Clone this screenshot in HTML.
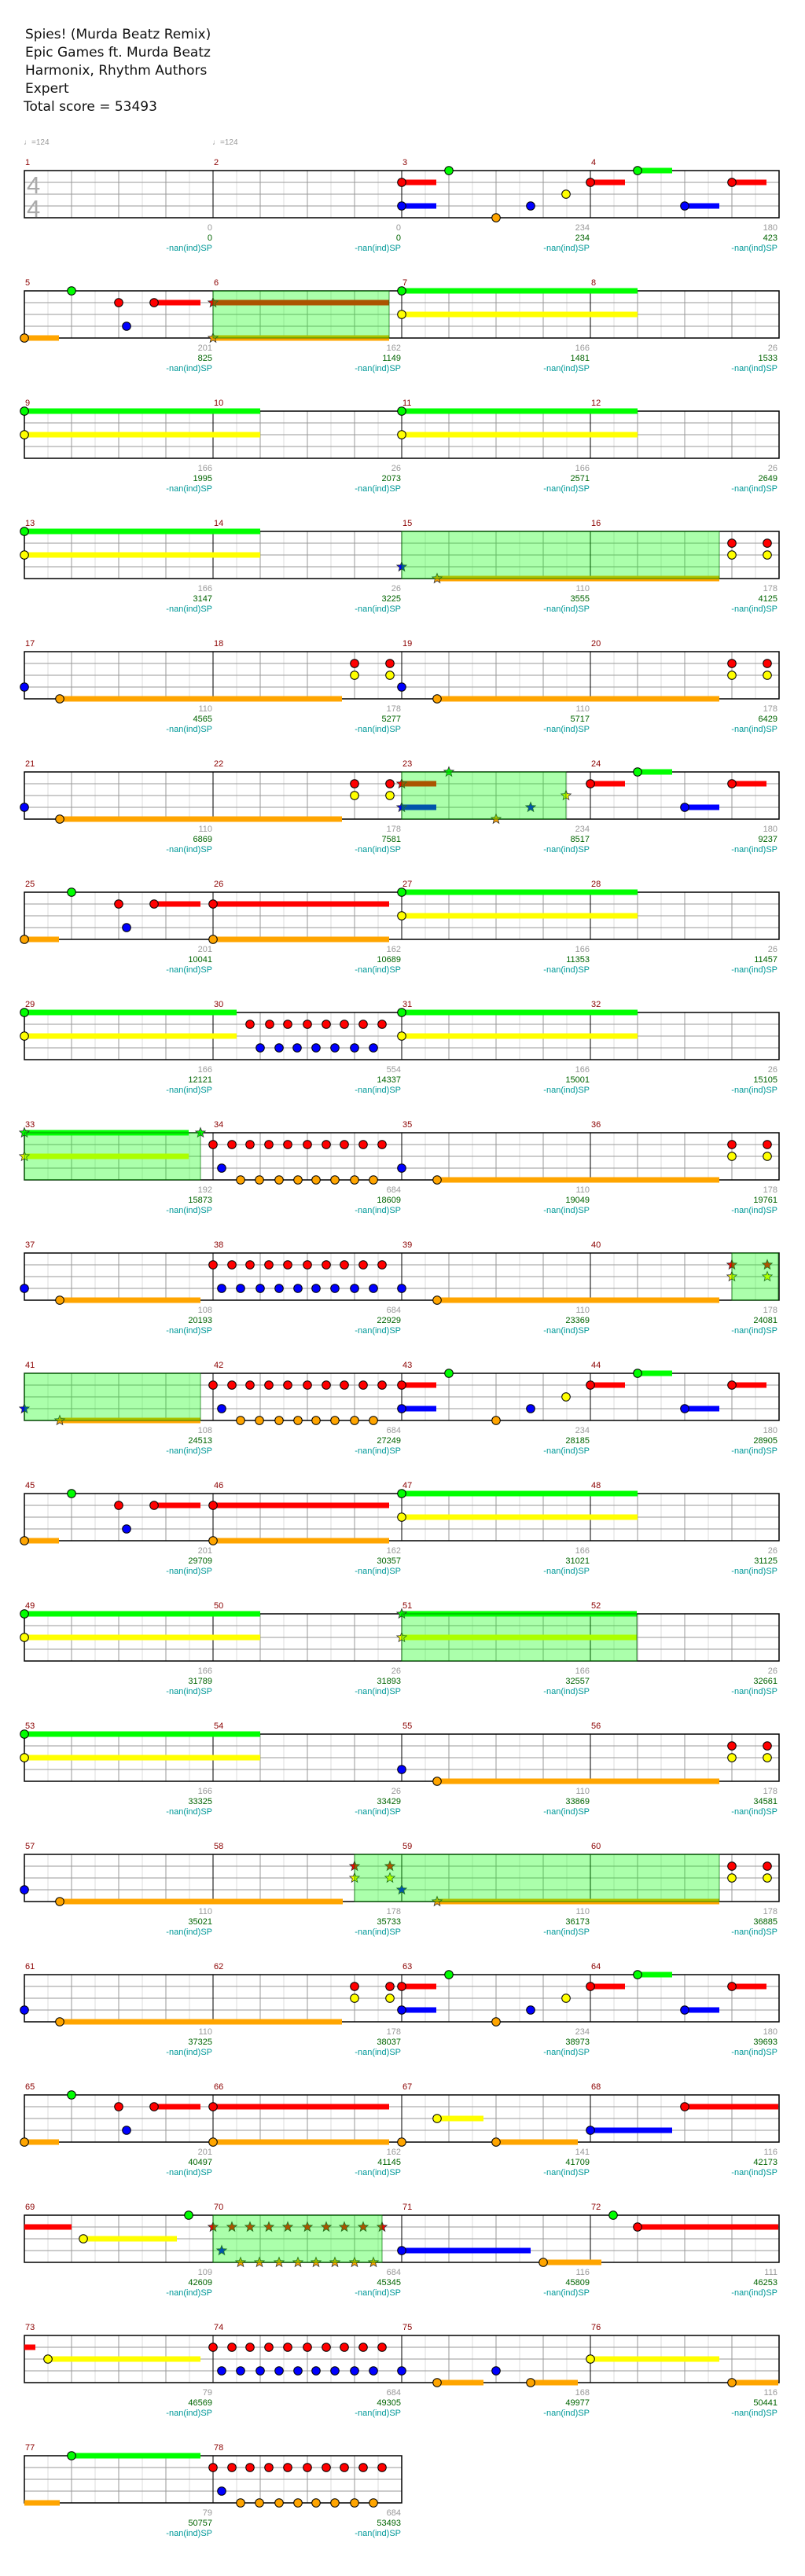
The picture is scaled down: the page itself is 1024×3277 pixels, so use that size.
<!DOCTYPE html>
<html><head><meta charset="utf-8"><style>
html,body{margin:0;padding:0;background:#fff}
svg{display:block}
text{font-family:"Liberation Sans",sans-serif;font-size:11px}
.g{fill:#999;text-anchor:end}.n{fill:#006400;text-anchor:end}.t{fill:#009999;text-anchor:end}.m{fill:#8b0000}
.h{font-family:"DejaVu Sans",sans-serif;font-size:17px;fill:#111}
</style></head><body>
<svg id="s" xmlns="http://www.w3.org/2000/svg" width="1024" height="3277" viewBox="0 0 1024 3277">
<text class="h" x="32" y="49">Spies! (Murda Beatz Remix)</text>
<text class="h" x="32" y="72">Epic Games ft. Murda Beatz</text>
<text class="h" x="32" y="95">Harmonix, Rhythm Authors</text>
<text class="h" x="32" y="118">Expert</text>
<text class="h" x="30" y="141">Total score = 53493</text>
<text x="30" y="184" style="font-size:10px;fill:#999">♩=124</text>
<text x="270" y="184" style="font-size:10px;fill:#999">♩=124</text>
<g id="labels">
<g transform="translate(0,217)"><text class="m" x="32" y="-7">1</text><text class="m" x="272" y="-7">2</text><text class="m" x="512" y="-7">3</text><text class="m" x="752" y="-7">4</text>
<text class="g" x="270" y="76">0</text><text class="n" x="270" y="89">0</text><text class="t" x="270" y="102">-nan(ind)SP</text>
<text class="g" x="510" y="76">0</text><text class="n" x="510" y="89">0</text><text class="t" x="510" y="102">-nan(ind)SP</text>
<text class="g" x="750" y="76">234</text><text class="n" x="750" y="89">234</text><text class="t" x="750" y="102">-nan(ind)SP</text>
<text class="g" x="989" y="76">180</text><text class="n" x="989" y="89">423</text><text class="t" x="989" y="102">-nan(ind)SP</text></g>
<g transform="translate(0,370)"><text class="m" x="32" y="-7">5</text><text class="m" x="272" y="-7">6</text><text class="m" x="512" y="-7">7</text><text class="m" x="752" y="-7">8</text>
<text class="g" x="270" y="76">201</text><text class="n" x="270" y="89">825</text><text class="t" x="270" y="102">-nan(ind)SP</text>
<text class="g" x="510" y="76">162</text><text class="n" x="510" y="89">1149</text><text class="t" x="510" y="102">-nan(ind)SP</text>
<text class="g" x="750" y="76">166</text><text class="n" x="750" y="89">1481</text><text class="t" x="750" y="102">-nan(ind)SP</text>
<text class="g" x="989" y="76">26</text><text class="n" x="989" y="89">1533</text><text class="t" x="989" y="102">-nan(ind)SP</text></g>
<g transform="translate(0,523)"><text class="m" x="32" y="-7">9</text><text class="m" x="272" y="-7">10</text><text class="m" x="512" y="-7">11</text><text class="m" x="752" y="-7">12</text>
<text class="g" x="270" y="76">166</text><text class="n" x="270" y="89">1995</text><text class="t" x="270" y="102">-nan(ind)SP</text>
<text class="g" x="510" y="76">26</text><text class="n" x="510" y="89">2073</text><text class="t" x="510" y="102">-nan(ind)SP</text>
<text class="g" x="750" y="76">166</text><text class="n" x="750" y="89">2571</text><text class="t" x="750" y="102">-nan(ind)SP</text>
<text class="g" x="989" y="76">26</text><text class="n" x="989" y="89">2649</text><text class="t" x="989" y="102">-nan(ind)SP</text></g>
<g transform="translate(0,676)"><text class="m" x="32" y="-7">13</text><text class="m" x="272" y="-7">14</text><text class="m" x="512" y="-7">15</text><text class="m" x="752" y="-7">16</text>
<text class="g" x="270" y="76">166</text><text class="n" x="270" y="89">3147</text><text class="t" x="270" y="102">-nan(ind)SP</text>
<text class="g" x="510" y="76">26</text><text class="n" x="510" y="89">3225</text><text class="t" x="510" y="102">-nan(ind)SP</text>
<text class="g" x="750" y="76">110</text><text class="n" x="750" y="89">3555</text><text class="t" x="750" y="102">-nan(ind)SP</text>
<text class="g" x="989" y="76">178</text><text class="n" x="989" y="89">4125</text><text class="t" x="989" y="102">-nan(ind)SP</text></g>
<g transform="translate(0,829)"><text class="m" x="32" y="-7">17</text><text class="m" x="272" y="-7">18</text><text class="m" x="512" y="-7">19</text><text class="m" x="752" y="-7">20</text>
<text class="g" x="270" y="76">110</text><text class="n" x="270" y="89">4565</text><text class="t" x="270" y="102">-nan(ind)SP</text>
<text class="g" x="510" y="76">178</text><text class="n" x="510" y="89">5277</text><text class="t" x="510" y="102">-nan(ind)SP</text>
<text class="g" x="750" y="76">110</text><text class="n" x="750" y="89">5717</text><text class="t" x="750" y="102">-nan(ind)SP</text>
<text class="g" x="989" y="76">178</text><text class="n" x="989" y="89">6429</text><text class="t" x="989" y="102">-nan(ind)SP</text></g>
<g transform="translate(0,982)"><text class="m" x="32" y="-7">21</text><text class="m" x="272" y="-7">22</text><text class="m" x="512" y="-7">23</text><text class="m" x="752" y="-7">24</text>
<text class="g" x="270" y="76">110</text><text class="n" x="270" y="89">6869</text><text class="t" x="270" y="102">-nan(ind)SP</text>
<text class="g" x="510" y="76">178</text><text class="n" x="510" y="89">7581</text><text class="t" x="510" y="102">-nan(ind)SP</text>
<text class="g" x="750" y="76">234</text><text class="n" x="750" y="89">8517</text><text class="t" x="750" y="102">-nan(ind)SP</text>
<text class="g" x="989" y="76">180</text><text class="n" x="989" y="89">9237</text><text class="t" x="989" y="102">-nan(ind)SP</text></g>
<g transform="translate(0,1135)"><text class="m" x="32" y="-7">25</text><text class="m" x="272" y="-7">26</text><text class="m" x="512" y="-7">27</text><text class="m" x="752" y="-7">28</text>
<text class="g" x="270" y="76">201</text><text class="n" x="270" y="89">10041</text><text class="t" x="270" y="102">-nan(ind)SP</text>
<text class="g" x="510" y="76">162</text><text class="n" x="510" y="89">10689</text><text class="t" x="510" y="102">-nan(ind)SP</text>
<text class="g" x="750" y="76">166</text><text class="n" x="750" y="89">11353</text><text class="t" x="750" y="102">-nan(ind)SP</text>
<text class="g" x="989" y="76">26</text><text class="n" x="989" y="89">11457</text><text class="t" x="989" y="102">-nan(ind)SP</text></g>
<g transform="translate(0,1288)"><text class="m" x="32" y="-7">29</text><text class="m" x="272" y="-7">30</text><text class="m" x="512" y="-7">31</text><text class="m" x="752" y="-7">32</text>
<text class="g" x="270" y="76">166</text><text class="n" x="270" y="89">12121</text><text class="t" x="270" y="102">-nan(ind)SP</text>
<text class="g" x="510" y="76">554</text><text class="n" x="510" y="89">14337</text><text class="t" x="510" y="102">-nan(ind)SP</text>
<text class="g" x="750" y="76">166</text><text class="n" x="750" y="89">15001</text><text class="t" x="750" y="102">-nan(ind)SP</text>
<text class="g" x="989" y="76">26</text><text class="n" x="989" y="89">15105</text><text class="t" x="989" y="102">-nan(ind)SP</text></g>
<g transform="translate(0,1441)"><text class="m" x="32" y="-7">33</text><text class="m" x="272" y="-7">34</text><text class="m" x="512" y="-7">35</text><text class="m" x="752" y="-7">36</text>
<text class="g" x="270" y="76">192</text><text class="n" x="270" y="89">15873</text><text class="t" x="270" y="102">-nan(ind)SP</text>
<text class="g" x="510" y="76">684</text><text class="n" x="510" y="89">18609</text><text class="t" x="510" y="102">-nan(ind)SP</text>
<text class="g" x="750" y="76">110</text><text class="n" x="750" y="89">19049</text><text class="t" x="750" y="102">-nan(ind)SP</text>
<text class="g" x="989" y="76">178</text><text class="n" x="989" y="89">19761</text><text class="t" x="989" y="102">-nan(ind)SP</text></g>
<g transform="translate(0,1594)"><text class="m" x="32" y="-7">37</text><text class="m" x="272" y="-7">38</text><text class="m" x="512" y="-7">39</text><text class="m" x="752" y="-7">40</text>
<text class="g" x="270" y="76">108</text><text class="n" x="270" y="89">20193</text><text class="t" x="270" y="102">-nan(ind)SP</text>
<text class="g" x="510" y="76">684</text><text class="n" x="510" y="89">22929</text><text class="t" x="510" y="102">-nan(ind)SP</text>
<text class="g" x="750" y="76">110</text><text class="n" x="750" y="89">23369</text><text class="t" x="750" y="102">-nan(ind)SP</text>
<text class="g" x="989" y="76">178</text><text class="n" x="989" y="89">24081</text><text class="t" x="989" y="102">-nan(ind)SP</text></g>
<g transform="translate(0,1747)"><text class="m" x="32" y="-7">41</text><text class="m" x="272" y="-7">42</text><text class="m" x="512" y="-7">43</text><text class="m" x="752" y="-7">44</text>
<text class="g" x="270" y="76">108</text><text class="n" x="270" y="89">24513</text><text class="t" x="270" y="102">-nan(ind)SP</text>
<text class="g" x="510" y="76">684</text><text class="n" x="510" y="89">27249</text><text class="t" x="510" y="102">-nan(ind)SP</text>
<text class="g" x="750" y="76">234</text><text class="n" x="750" y="89">28185</text><text class="t" x="750" y="102">-nan(ind)SP</text>
<text class="g" x="989" y="76">180</text><text class="n" x="989" y="89">28905</text><text class="t" x="989" y="102">-nan(ind)SP</text></g>
<g transform="translate(0,1900)"><text class="m" x="32" y="-7">45</text><text class="m" x="272" y="-7">46</text><text class="m" x="512" y="-7">47</text><text class="m" x="752" y="-7">48</text>
<text class="g" x="270" y="76">201</text><text class="n" x="270" y="89">29709</text><text class="t" x="270" y="102">-nan(ind)SP</text>
<text class="g" x="510" y="76">162</text><text class="n" x="510" y="89">30357</text><text class="t" x="510" y="102">-nan(ind)SP</text>
<text class="g" x="750" y="76">166</text><text class="n" x="750" y="89">31021</text><text class="t" x="750" y="102">-nan(ind)SP</text>
<text class="g" x="989" y="76">26</text><text class="n" x="989" y="89">31125</text><text class="t" x="989" y="102">-nan(ind)SP</text></g>
<g transform="translate(0,2053)"><text class="m" x="32" y="-7">49</text><text class="m" x="272" y="-7">50</text><text class="m" x="512" y="-7">51</text><text class="m" x="752" y="-7">52</text>
<text class="g" x="270" y="76">166</text><text class="n" x="270" y="89">31789</text><text class="t" x="270" y="102">-nan(ind)SP</text>
<text class="g" x="510" y="76">26</text><text class="n" x="510" y="89">31893</text><text class="t" x="510" y="102">-nan(ind)SP</text>
<text class="g" x="750" y="76">166</text><text class="n" x="750" y="89">32557</text><text class="t" x="750" y="102">-nan(ind)SP</text>
<text class="g" x="989" y="76">26</text><text class="n" x="989" y="89">32661</text><text class="t" x="989" y="102">-nan(ind)SP</text></g>
<g transform="translate(0,2206)"><text class="m" x="32" y="-7">53</text><text class="m" x="272" y="-7">54</text><text class="m" x="512" y="-7">55</text><text class="m" x="752" y="-7">56</text>
<text class="g" x="270" y="76">166</text><text class="n" x="270" y="89">33325</text><text class="t" x="270" y="102">-nan(ind)SP</text>
<text class="g" x="510" y="76">26</text><text class="n" x="510" y="89">33429</text><text class="t" x="510" y="102">-nan(ind)SP</text>
<text class="g" x="750" y="76">110</text><text class="n" x="750" y="89">33869</text><text class="t" x="750" y="102">-nan(ind)SP</text>
<text class="g" x="989" y="76">178</text><text class="n" x="989" y="89">34581</text><text class="t" x="989" y="102">-nan(ind)SP</text></g>
<g transform="translate(0,2359)"><text class="m" x="32" y="-7">57</text><text class="m" x="272" y="-7">58</text><text class="m" x="512" y="-7">59</text><text class="m" x="752" y="-7">60</text>
<text class="g" x="270" y="76">110</text><text class="n" x="270" y="89">35021</text><text class="t" x="270" y="102">-nan(ind)SP</text>
<text class="g" x="510" y="76">178</text><text class="n" x="510" y="89">35733</text><text class="t" x="510" y="102">-nan(ind)SP</text>
<text class="g" x="750" y="76">110</text><text class="n" x="750" y="89">36173</text><text class="t" x="750" y="102">-nan(ind)SP</text>
<text class="g" x="989" y="76">178</text><text class="n" x="989" y="89">36885</text><text class="t" x="989" y="102">-nan(ind)SP</text></g>
<g transform="translate(0,2512)"><text class="m" x="32" y="-7">61</text><text class="m" x="272" y="-7">62</text><text class="m" x="512" y="-7">63</text><text class="m" x="752" y="-7">64</text>
<text class="g" x="270" y="76">110</text><text class="n" x="270" y="89">37325</text><text class="t" x="270" y="102">-nan(ind)SP</text>
<text class="g" x="510" y="76">178</text><text class="n" x="510" y="89">38037</text><text class="t" x="510" y="102">-nan(ind)SP</text>
<text class="g" x="750" y="76">234</text><text class="n" x="750" y="89">38973</text><text class="t" x="750" y="102">-nan(ind)SP</text>
<text class="g" x="989" y="76">180</text><text class="n" x="989" y="89">39693</text><text class="t" x="989" y="102">-nan(ind)SP</text></g>
<g transform="translate(0,2665)"><text class="m" x="32" y="-7">65</text><text class="m" x="272" y="-7">66</text><text class="m" x="512" y="-7">67</text><text class="m" x="752" y="-7">68</text>
<text class="g" x="270" y="76">201</text><text class="n" x="270" y="89">40497</text><text class="t" x="270" y="102">-nan(ind)SP</text>
<text class="g" x="510" y="76">162</text><text class="n" x="510" y="89">41145</text><text class="t" x="510" y="102">-nan(ind)SP</text>
<text class="g" x="750" y="76">141</text><text class="n" x="750" y="89">41709</text><text class="t" x="750" y="102">-nan(ind)SP</text>
<text class="g" x="989" y="76">116</text><text class="n" x="989" y="89">42173</text><text class="t" x="989" y="102">-nan(ind)SP</text></g>
<g transform="translate(0,2818)"><text class="m" x="32" y="-7">69</text><text class="m" x="272" y="-7">70</text><text class="m" x="512" y="-7">71</text><text class="m" x="752" y="-7">72</text>
<text class="g" x="270" y="76">109</text><text class="n" x="270" y="89">42609</text><text class="t" x="270" y="102">-nan(ind)SP</text>
<text class="g" x="510" y="76">684</text><text class="n" x="510" y="89">45345</text><text class="t" x="510" y="102">-nan(ind)SP</text>
<text class="g" x="750" y="76">116</text><text class="n" x="750" y="89">45809</text><text class="t" x="750" y="102">-nan(ind)SP</text>
<text class="g" x="989" y="76">111</text><text class="n" x="989" y="89">46253</text><text class="t" x="989" y="102">-nan(ind)SP</text></g>
<g transform="translate(0,2971)"><text class="m" x="32" y="-7">73</text><text class="m" x="272" y="-7">74</text><text class="m" x="512" y="-7">75</text><text class="m" x="752" y="-7">76</text>
<text class="g" x="270" y="76">79</text><text class="n" x="270" y="89">46569</text><text class="t" x="270" y="102">-nan(ind)SP</text>
<text class="g" x="510" y="76">684</text><text class="n" x="510" y="89">49305</text><text class="t" x="510" y="102">-nan(ind)SP</text>
<text class="g" x="750" y="76">168</text><text class="n" x="750" y="89">49977</text><text class="t" x="750" y="102">-nan(ind)SP</text>
<text class="g" x="989" y="76">116</text><text class="n" x="989" y="89">50441</text><text class="t" x="989" y="102">-nan(ind)SP</text></g>
<g transform="translate(0,3124)"><text class="m" x="32" y="-7">77</text><text class="m" x="272" y="-7">78</text>
<text class="g" x="270" y="76">79</text><text class="n" x="270" y="89">50757</text><text class="t" x="270" y="102">-nan(ind)SP</text>
<text class="g" x="510" y="76">684</text><text class="n" x="510" y="89">53493</text><text class="t" x="510" y="102">-nan(ind)SP</text></g>
</g>
<g id="grid"></g><g id="sus"></g><g id="stars"></g><g id="sp"></g>
<text x="34" y="246" style="font-size:31px;fill:#aaa">4</text>
<text x="34" y="276" style="font-size:31px;fill:#aaa">4</text>
<g id="notes"></g>
</svg>
<script>
var NS='http://www.w3.org/2000/svg';
var C=['#00ff00','#ff0000','#ffff00','#0000ff','#ffa500'];
function el(p,t,a){var e=document.createElementNS(NS,t);for(var k in a)e.setAttribute(k,a[k]);document.getElementById(p).appendChild(e);return e;}
var Y=0;
function staff(i,w){Y=217+153*i;var x2=31+240*w;
 for(var k=1;k<8*w;k++){if(k%2)el('grid','line',{x1:31+30*k,x2:31+30*k,y1:Y,y2:Y+60,stroke:'#ddd','stroke-width':1});}
 for(var j=1;j<4;j++)el('grid','line',{x1:31,x2:x2,y1:Y+15*j,y2:Y+15*j,stroke:'#999','stroke-width':1});
 for(var k=2;k<8*w;k+=2){el('grid','line',{x1:31+30*k,x2:31+30*k,y1:Y,y2:Y+60,stroke:(k%8==0?'#000':'#999'),'stroke-width':1});}
 el('grid','rect',{x:31,y:Y,width:x2-31,height:60,fill:'none',stroke:'#000','stroke-width':1.5});
}
function S(l,x,e){el('sus','rect',{x:x,y:Y+15*l-3.5,width:e-x,height:7,fill:C[l]});}
function N(l,x,e){if(e)S(l,x,e);el('notes','circle',{cx:x,cy:Y+15*l,r:5.3,fill:C[l],stroke:'#000','stroke-width':1});}
function T(l,x,e){if(e)S(l,x,e);var p=[],cy=Y+15*l;for(var k=0;k<10;k++){var r=k%2?2.8:6.5,a=-Math.PI/2+k*Math.PI/5;p.push((x+r*Math.cos(a)).toFixed(1)+','+(cy+r*Math.sin(a)).toFixed(1));}
 el('stars','polygon',{points:p.join(' '),fill:C[l],stroke:'#333','stroke-width':0.8});}
function SP(a,b){el('sp','rect',{x:a,y:Y,width:b-a,height:60,fill:'rgba(0,255,0,0.33)',stroke:'rgba(0,110,0,0.7)','stroke-width':1});}
var R10=[271,295,318,342,366,391,415,438,462,486],B9=[282,306,331,355,379,402,426,451,475],O8=[306,330,355,379,402,426,451,475];
function A(o){N(1,o,o+44);N(3,o,o+44);N(0,o+60);N(4,o+120);N(3,o+164);N(2,o+209);N(1,o+240,o+284);N(0,o+300,o+344);N(3,o+360,o+404);N(1,o+420,o+464);}
function Bp(){N(0,91);N(1,151);N(1,196,255);N(3,161);N(4,31,75);}
function Cp(o){N(0,o,o+300);N(2,o,o+300);}
function D(o){N(3,o);N(4,o+45,o+404);N(1,o+420);N(2,o+420);N(1,o+465);N(2,o+465);}
function reds(f){R10.forEach(function(x){f(1,x);});}
staff(0,4);A(511);
staff(1,4);Bp();SP(271,495);T(1,271,495);T(4,271,495);Cp(511);
staff(2,4);Cp(31);Cp(511);
staff(3,4);Cp(31);SP(511,915);T(3,511);T(4,556,915);N(1,931);N(2,931);N(1,976);N(2,976);
staff(4,4);D(31);D(511);
staff(5,4);D(31);SP(511,720);T(1,511,555);T(3,511,555);T(0,571);T(4,631);T(3,675);T(2,720);N(1,751,795);N(0,811,855);N(3,871,915);N(1,931,975);
staff(6,4);Bp();N(1,271,495);N(4,271,495);Cp(511);
staff(7,4);N(0,31,301);N(2,31,301);[318,343,366,391,415,438,462,486].forEach(function(x){N(1,x);});[331,355,378,402,426,451,475].forEach(function(x){N(3,x);});Cp(511);
staff(8,4);SP(31,255);T(0,31,240);T(2,31,240);T(0,255);reds(N);N(3,282);O8.forEach(function(x){N(4,x);});N(3,511);N(4,556,915);N(1,931);N(2,931);N(1,976);N(2,976);
staff(9,4);N(3,31);N(4,76,255);reds(N);B9.forEach(function(x){N(3,x);});N(3,511);N(4,556,915);SP(931,990);T(1,931);T(2,931);T(1,976);T(2,976);
staff(10,4);SP(31,255);T(3,31);T(4,76,255);reds(N);N(3,282);O8.forEach(function(x){N(4,x);});A(511);
staff(11,4);Bp();N(1,271,495);N(4,271,495);Cp(511);
staff(12,4);Cp(31);SP(511,810);T(0,511,810);T(2,511,810);
staff(13,4);Cp(31);N(3,511);N(4,556,915);N(1,931);N(2,931);N(1,976);N(2,976);
staff(14,4);N(3,31);N(4,76,436);SP(451,915);T(1,451);T(2,451);T(1,496);T(2,496);T(3,511);T(4,556,915);N(1,931);N(2,931);N(1,976);N(2,976);
staff(15,4);D(31);A(511);
staff(16,4);Bp();N(1,271,495);N(4,271,495);N(4,511);N(2,556,615);N(4,631,735);N(3,751,855);N(1,871,990);
staff(17,4);S(1,31,91);N(2,106,225);N(0,240);SP(271,486);reds(T);T(3,282);O8.forEach(function(x){T(4,x);});N(3,511,675);N(4,691,765);N(0,780);N(1,811,990);
staff(18,4);S(1,31,45);N(2,61,255);reds(N);B9.forEach(function(x){N(3,x);});N(3,511);N(4,556,615);N(3,631);N(4,675,735);N(2,751,915);N(4,931,990);
staff(19,2);S(4,31,76);N(0,91,255);reds(N);N(3,282);O8.forEach(function(x){N(4,x);});
</script>
</body></html>
